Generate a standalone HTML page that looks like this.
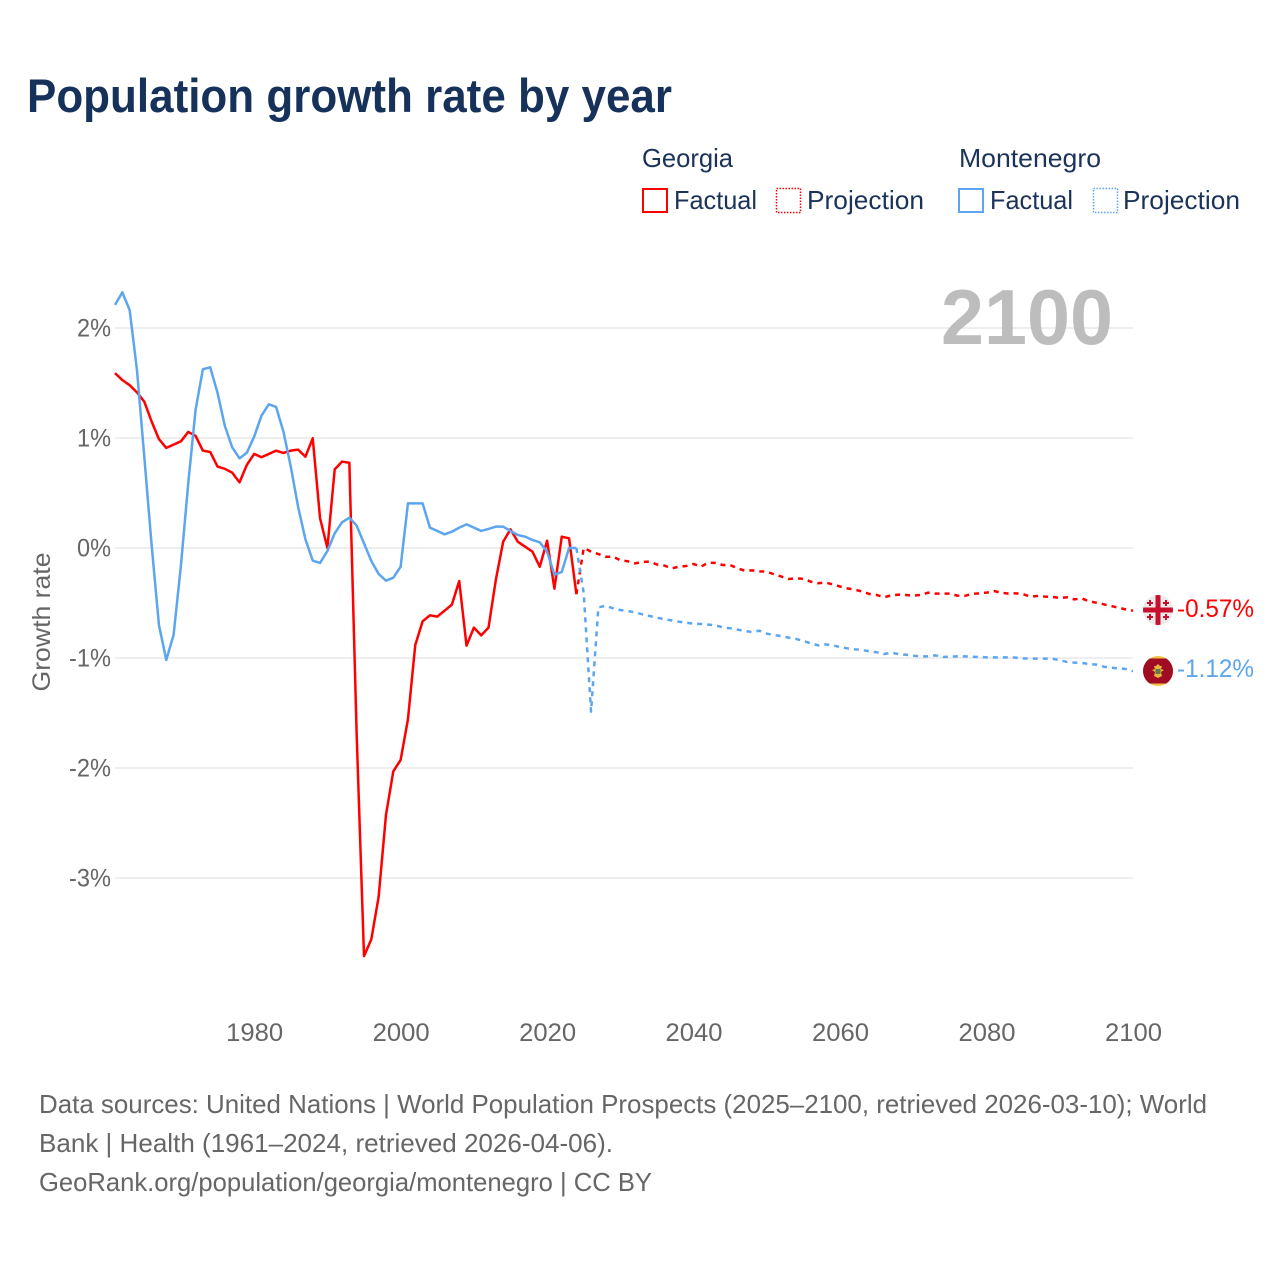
<!DOCTYPE html>
<html lang="en">
<head>
<meta charset="utf-8">
<title>Population growth rate by year</title>
<style>
  html, body { margin: 0; padding: 0; background: #fff; }
  svg { display: block; font-family: "Liberation Sans", sans-serif; }
</style>
</head>
<body>
<svg id="chart" xmlns="http://www.w3.org/2000/svg" width="1280" height="1280" viewBox="0 0 1280 1280">
  <rect x="0" y="0" width="1280" height="1280" fill="#ffffff"/>
  <text x="27" y="112" font-size="47" font-weight="700" fill="#17325a" textLength="645" lengthAdjust="spacingAndGlyphs">Population growth rate by year</text>

  <g font-size="26" fill="#1b3358">
    <text x="642" y="167" textLength="91" lengthAdjust="spacingAndGlyphs">Georgia</text>
    <text x="959" y="167" textLength="142" lengthAdjust="spacingAndGlyphs">Montenegro</text>
    <g>
      <rect x="643" y="189" width="24" height="23" fill="none" stroke="#ff0000" stroke-width="2"/>
      <text x="674" y="209" textLength="83" lengthAdjust="spacingAndGlyphs">Factual</text>
    </g>
    <g>
      <rect x="776.5" y="188.5" width="24" height="24" fill="none" stroke="#ff0000" stroke-width="1.5" stroke-dasharray="1.5 1.5"/>
      <text x="807" y="209" textLength="117" lengthAdjust="spacingAndGlyphs">Projection</text>
    </g>
    <g>
      <rect x="959" y="189" width="24" height="23" fill="none" stroke="#5ca5ef" stroke-width="2"/>
      <text x="990" y="209" textLength="83" lengthAdjust="spacingAndGlyphs">Factual</text>
    </g>
    <g>
      <rect x="1093.5" y="188.5" width="24" height="24" fill="none" stroke="#5ca5ef" stroke-width="1.5" stroke-dasharray="1.5 1.5"/>
      <text x="1123" y="209" textLength="117" lengthAdjust="spacingAndGlyphs">Projection</text>
    </g>
  </g>

  <g id="grid"></g>
  <text x="1113" y="344" text-anchor="end" font-size="78" font-weight="700" fill="#bdbdbd" textLength="172" lengthAdjust="spacingAndGlyphs">2100</text>
  <g id="y-ticks" font-size="25" fill="#666666"></g>
  <g id="x-ticks" font-size="25" fill="#666666"></g>
  <text transform="translate(50 622) rotate(-90)" text-anchor="middle" font-size="25" fill="#666666" textLength="139" lengthAdjust="spacingAndGlyphs">Growth rate</text>
  <g id="series" fill="none" stroke-width="2.5" stroke-linejoin="round"></g>

  <g>
    <clipPath id="clip-ge"><circle cx="1158" cy="610" r="15"/></clipPath>
    <g clip-path="url(#clip-ge)">
      <rect x="1143" y="595" width="30" height="30" fill="#ebebeb"/>
      <rect x="1155.5" y="595" width="5" height="30" fill="#c8102e"/>
      <rect x="1143" y="607.5" width="30" height="5" fill="#c8102e"/>
      <path d="M1150 600v6M1147 603h6M1166 600v6M1163 603h6M1150 614v6M1147 617h6M1166 614v6M1163 617h6" stroke="#c8102e" stroke-width="2" fill="none"/>
    </g>
  </g>
  <g>
    <clipPath id="clip-me"><circle cx="1158" cy="671" r="15"/></clipPath>
    <g clip-path="url(#clip-me)">
      <rect x="1143" y="656" width="30" height="30" fill="#f5c24a"/>
      <rect x="1143" y="658.5" width="30" height="25" fill="#a00c23"/>
      <path d="M1158 664l2 2h2l-1 3 3 1-3 2 1 4-4 2-4-2 1-4-3-2 3-1-1-3h2z" fill="#e6b53c"/>
      <rect x="1155.5" y="669" width="5" height="5" fill="#5e7a4a"/>
    </g>
  </g>
  <text x="1177" y="617" font-size="25" fill="#ff0000" textLength="77" lengthAdjust="spacingAndGlyphs">-0.57%</text>
  <text x="1177" y="677" font-size="25" fill="#5ca5ef" textLength="77" lengthAdjust="spacingAndGlyphs">-1.12%</text>

  <g font-size="26" fill="#666666">
    <text x="39" y="1113" textLength="1168" lengthAdjust="spacingAndGlyphs">Data sources: United Nations | World Population Prospects (2025–2100, retrieved 2026-03-10); World</text>
    <text x="39" y="1152" textLength="574" lengthAdjust="spacingAndGlyphs">Bank | Health (1961–2024, retrieved 2026-04-06).</text>
    <a><text x="39" y="1191" textLength="613" lengthAdjust="spacingAndGlyphs">GeoRank.org/population/georgia/montenegro | CC BY</text></a>
  </g>
</svg>
<script>
var factualStartYear = 1961;
var projectionStartYear = 2025;
var xTickYears = [1980, 2000, 2020, 2040, 2060, 2080, 2100];
var yTickValues = [2, 1, 0, -1, -2, -3];
var georgiaFactual = [1.59,1.527,1.48,1.415,1.33,1.15,0.99,0.91,0.94,0.97,1.055,1.02,0.885,0.873,0.74,0.72,0.685,0.597,0.755,0.855,0.825,0.855,0.885,0.864,0.885,0.894,0.83,0.997,0.27,0,0.715,0.785,0.775,-1.7,-3.71,-3.557,-3.17,-2.427,-2.03,-1.927,-1.557,-0.882,-0.667,-0.612,-0.624,-0.57,-0.515,-0.3,-0.888,-0.724,-0.794,-0.724,-0.29,0.057,0.17,0.057,0.012,-0.033,-0.17,0.066,-0.37,0.103,0.088,-0.42];
var montenegroFactual = [2.21,2.324,2.164,1.618,0.83,0.027,-0.7,-1.018,-0.79,-0.16,0.588,1.255,1.625,1.643,1.41,1.109,0.915,0.815,0.866,1.012,1.203,1.306,1.282,1.057,0.74,0.375,0.079,-0.115,-0.136,-0.027,0.134,0.234,0.276,0.203,0.042,-0.118,-0.236,-0.297,-0.27,-0.17,0.406,0.406,0.406,0.185,0.155,0.124,0.148,0.185,0.215,0.185,0.155,0.173,0.194,0.194,0.155,0.118,0.103,0.073,0.052,-0.033,-0.243,-0.218,0,0];
var georgiaProjection = [0,-0.033,-0.055,-0.079,-0.079,-0.112,-0.12,-0.14,-0.127,-0.124,-0.15,-0.16,-0.185,-0.17,-0.164,-0.145,-0.17,-0.133,-0.136,-0.155,-0.155,-0.185,-0.206,-0.203,-0.212,-0.215,-0.24,-0.26,-0.282,-0.276,-0.28,-0.306,-0.32,-0.315,-0.33,-0.35,-0.367,-0.379,-0.395,-0.418,-0.427,-0.448,-0.43,-0.424,-0.427,-0.433,-0.427,-0.406,-0.415,-0.415,-0.415,-0.433,-0.436,-0.418,-0.412,-0.406,-0.391,-0.406,-0.415,-0.412,-0.42,-0.442,-0.436,-0.442,-0.445,-0.455,-0.448,-0.467,-0.458,-0.485,-0.497,-0.512,-0.527,-0.543,-0.558,-0.57];
var montenegroProjection = [-0.41,-1.488,-0.54,-0.525,-0.548,-0.564,-0.573,-0.585,-0.603,-0.618,-0.633,-0.648,-0.658,-0.67,-0.679,-0.688,-0.691,-0.697,-0.703,-0.721,-0.73,-0.742,-0.755,-0.764,-0.752,-0.779,-0.79,-0.803,-0.815,-0.827,-0.845,-0.867,-0.885,-0.876,-0.885,-0.9,-0.912,-0.921,-0.927,-0.94,-0.948,-0.964,-0.952,-0.964,-0.97,-0.979,-0.985,-0.985,-0.976,-0.991,-0.988,-0.985,-0.985,-0.988,-0.991,-0.994,-0.994,-0.994,-0.994,-0.997,-1.003,-1.006,-1.006,-1.006,-1.006,-1.021,-1.036,-1.042,-1.045,-1.055,-1.06,-1.079,-1.088,-1.094,-1.1,-1.12];

var NS = 'http://www.w3.org/2000/svg';
var plotLeft = 115, plotRight = 1133;
function xScale(year) { return plotLeft + (year - 1961) * (plotRight - plotLeft) / (2100 - 1961); }
function yScale(value) { return 548 - value * 110; }
function points(values, startYear) {
  return values.map(function (v, i) { return xScale(startYear + i).toFixed(2) + ',' + yScale(v).toFixed(2); });
}

yTickValues.forEach(function (v) {
  var line = document.createElementNS(NS, 'line');
  
  
  line.setAttribute('x1', plotLeft);
  line.setAttribute('x2', plotRight);
  line.setAttribute('y1', yScale(v));
  line.setAttribute('y2', yScale(v));
  line.setAttribute('stroke', '#e8e8e8');
  line.setAttribute('stroke-width', '1.5');
  document.getElementById('grid').appendChild(line);

  var label = document.createElementNS(NS, 'text');
  
  
  label.setAttribute('x', 111);
  label.setAttribute('y', yScale(v) + 8.5);
  label.setAttribute('text-anchor', 'end');
  label.setAttribute('textLength', v < 0 ? 42 : 34);
  label.setAttribute('lengthAdjust', 'spacingAndGlyphs');
  label.textContent = v + '%';
  document.getElementById('y-ticks').appendChild(label);
});

xTickYears.forEach(function (year) {
  var label = document.createElementNS(NS, 'text');
  
  
  label.setAttribute('x', xScale(year) + 0.5);
  label.setAttribute('y', 1041);
  label.setAttribute('text-anchor', 'middle');
  label.setAttribute('textLength', 57);
  label.setAttribute('lengthAdjust', 'spacingAndGlyphs');
  label.textContent = year;
  document.getElementById('x-ticks').appendChild(label);
});

function addLine(name, pts, color, dashed) {
  var line = document.createElementNS(NS, 'polyline');
  
  
  line.setAttribute('points', pts.join(' '));
  line.setAttribute('stroke', color);
  if (dashed) { line.setAttribute('stroke-dasharray', '5 5'); }
  document.getElementById('series').appendChild(line);
}

var geoFactualPts = points(georgiaFactual, factualStartYear);
var monFactualPts = points(montenegroFactual, factualStartYear);
addLine('georgia-projection-line', [geoFactualPts[geoFactualPts.length - 1]].concat(points(georgiaProjection, projectionStartYear)), '#ff0000', true);
addLine('georgia-factual-line', geoFactualPts, '#ff0000', false);
addLine('montenegro-projection-line', [monFactualPts[monFactualPts.length - 1]].concat(points(montenegroProjection, projectionStartYear)), '#5ca5ef', true);
addLine('montenegro-factual-line', monFactualPts, '#5ca5ef', false);
</script>
</body>
</html>
